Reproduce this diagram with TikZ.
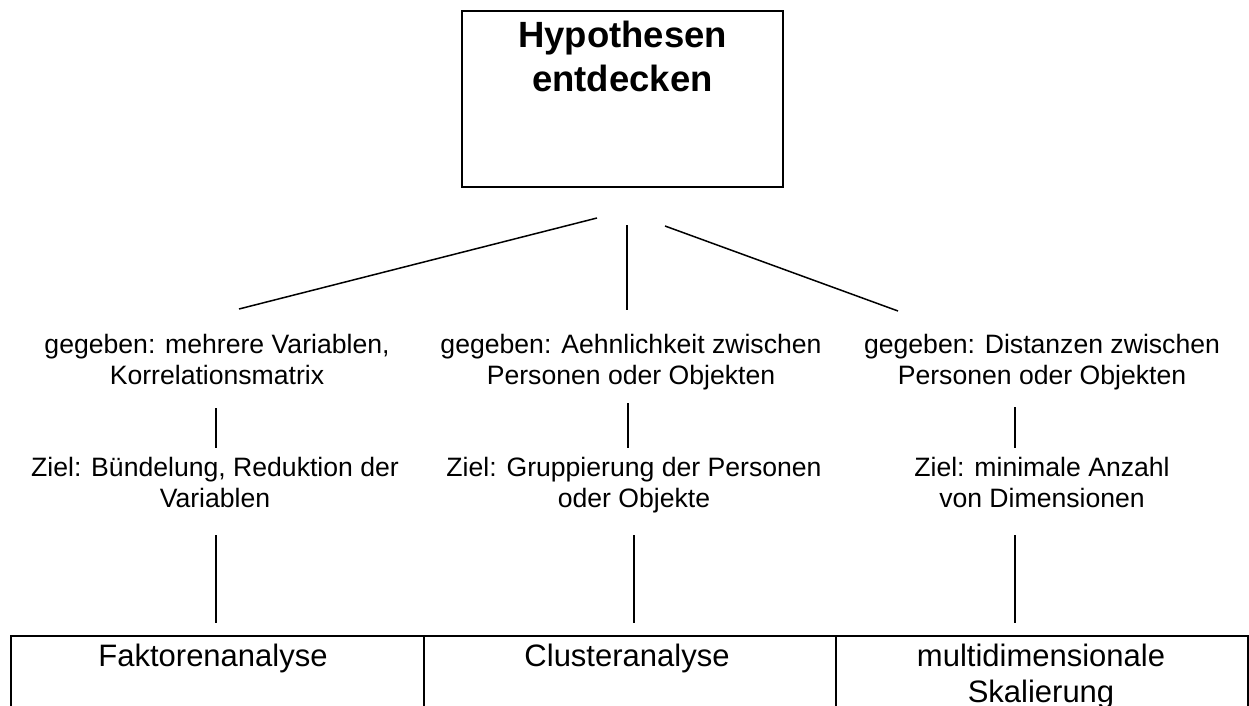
\documentclass[tikz,border=0pt]{standalone}
\usepackage{fontspec}
\setmainfont{Liberation Sans}
\begin{document}
\begin{tikzpicture}[x=1pt,y=-1pt,
	txt/.style={font=\fontsize{26.6}{31}\selectfont, align=center, anchor=base, inner sep=0pt},
	celltxt/.style={font=\fontsize{31}{36}\selectfont, align=center, anchor=base, inner sep=0pt},
	cell/.style={draw, line width=2.6pt, anchor=north west, outer sep=0pt, inner sep=0pt,
		minimum height=120pt},
	branch/.style={line width=1.5pt}]

	\clip (0,0) rectangle (1249,706);

	% top box
	\node[draw, line width=2pt, minimum width=321pt, minimum height=176pt, outer sep=0pt]
		(hypbox) at (622.5,99) {};
	\node[font=\fontsize{36.5}{44}\selectfont\bfseries, align=center, anchor=base, inner sep=0pt]
		(hyp) at (622.5,92) {Hypothesen\\entdecken};

	% branches below the top box
	\coordinate (l0) at (597,218);
	\coordinate (l1) at (239,309);
	\coordinate (m0) at (627,225);
	\coordinate (m1) at (627,310);
	\coordinate (r0) at (665,226);
	\coordinate (r1) at (898,311);
	\draw[branch] (l0) -- (l1);
	\draw[branch] (m0) -- (m1);
	\draw[branch] (r0) -- (r1);

	% given
	\node[txt] (given1) at (217,384) {gegeben: mehrere Variablen,\\Korrelationsmatrix};
	\node[txt] (given2) at (631,384) {gegeben: Aehnlichkeit zwischen\\Personen oder Objekten};
	\node[txt] (given3) at (1042,384) {gegeben: Distanzen zwischen\\Personen oder Objekten};

	% short lines
	\coordinate (s1a) at (216,408);
	\coordinate (s1b) at (216,448);
	\coordinate (s2a) at (628,403);
	\coordinate (s2b) at (628,448);
	\coordinate (s3a) at (1015,407);
	\coordinate (s3b) at (1015,448);
	\draw[branch] (s1a) -- (s1b);
	\draw[branch] (s2a) -- (s2b);
	\draw[branch] (s3a) -- (s3b);

	% goals
	\node[txt] (goal1) at (215,507) {Ziel: Bündelung, Reduktion der\\Variablen};
	\node[txt] (goal2) at (634,507) {Ziel: Gruppierung der Personen\\oder Objekte};
	\node[txt] (goal3) at (1042,507) {Ziel: minimale Anzahl\\von Dimensionen};

	% long lines
	\coordinate (t1a) at (216,535);
	\coordinate (t1b) at (216,623);
	\coordinate (t2a) at (634,535);
	\coordinate (t2b) at (634,623);
	\coordinate (t3a) at (1015,535);
	\coordinate (t3b) at (1015,623);
	\draw[branch] (t1a) -- (t1b);
	\draw[branch] (t2a) -- (t2b);
	\draw[branch] (t3a) -- (t3b);

	% methods
	\node[cell, minimum width=413pt] (cell1) at (11,636) {};
	\node[cell, minimum width=412pt] (cell2) at (424,636) {};
	\node[cell, minimum width=412pt] (cell3) at (836,636) {};
	\node[celltxt] (fak) at (213,666) {Faktorenanalyse};
	\node[celltxt] (clu) at (627,666) {Clusteranalyse};
	\node[celltxt] (mds) at (1041,702) {multidimensionale\\Skalierung};

\end{tikzpicture}
\end{document}
